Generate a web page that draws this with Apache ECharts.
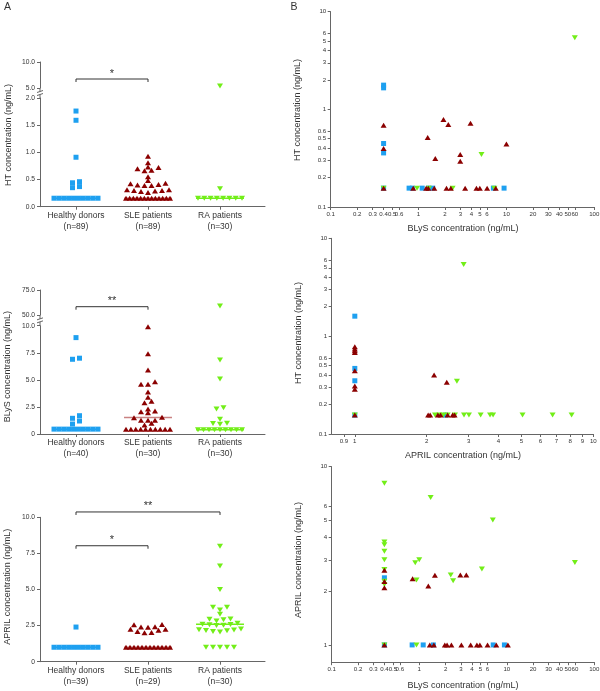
<!DOCTYPE html>
<html><head><meta charset="utf-8">
<script src="https://cdn.jsdelivr.net/npm/echarts@6/dist/echarts.min.js"></script>
<style>html,body{margin:0;padding:0;background:#fff}#c{width:600px;height:691px}</style>
</head><body><div id="c"></div><script>
// ---------- DATA ----------
const groups = ['Healthy donors', 'SLE patients', 'RA patients'];

// Panel A – HT (ng/mL), visible markers
const htHealthy = [0.156,0.156,0.156,0.156,0.156,0.156,0.156,0.156,0.156,0.156, 0.35,0.37,0.44,0.46,0.91,1.59,1.76];
const htSle = [0.156,0.156,0.156,0.156,0.156,0.156,0.156,0.156,0.156,0.156,0.156,0.156,0.156,
  0.26,0.28,0.29,0.30,0.30,0.31,0.31, 0.39,0.39,0.40,0.41,0.42,0.43,0.48, 0.55, 0.66,0.67,0.70,0.72,0.73, 0.81, 0.93];
const htRa = [0.156,0.156,0.156,0.156,0.156,0.156,0.156,0.156, 0.33, 5.4];
const htMedian = [0.156, 0.156, 0.156];
const htN = [89, 89, 30];

// Panel A – BLyS (ng/mL)
const blysHealthy = [0.45,0.45,0.45,0.45,0.45,0.45,0.45,0.45,0.45,0.45, 0.92,1.2,1.45,1.69,6.9,7.0,8.9];
const blysSle = [0.43,0.43,0.43,0.43,0.43,0.43,0.43,0.43,0.43,0.43, 0.83,0.99,1.26,1.26,1.26,1.51,1.54,
  1.97,2.06,2.12,2.31,2.89,3.02,3.39,3.88,4.59,4.59,4.83,5.9,7.41,9.9];
const blysRa = [0.4,0.4,0.4,0.4,0.4,0.4,0.4,0.4,0.4, 0.9,0.97,0.99,1.36,2.31,2.43,5.08,6.83,59];
const blysMedian = [0.45, 1.52, 0.4];
const blysN = [40, 30, 30];

// Panel A – APRIL (ng/mL)
const aprilHealthy = [1,1,1,1,1,1,1,1,1,1, 2.4];
const aprilSle = [1,1,1,1,1,1,1,1,1,1,1,1, 2.0,2.03,2.1,2.17,2.24,2.24,2.38,2.4,2.42,2.56,2.58];
const aprilRa = [1,1,1,1,1, 2.05,2.1,2.14,2.16,2.2,2.22,2.26, 2.5,2.52,2.56,2.58,2.6,2.66,
  2.82,2.9,2.94,2.96, 3.28,3.58,3.77,3.77, 5.0,6.63,8.0];
const aprilMedian = [1.0, 1.0, 2.59];
const aprilN = [39, 29, 30];

// Panel B – HT vs BLyS : [BLyS, HT]
const bHtBlysHealthy = [[0.4,1.77],[0.4,1.66],[0.4,0.447],[0.4,0.358],[0.4,0.156],[0.78,0.156],[0.85,0.156],[1.1,0.156],[1.3,0.156],[1.45,0.156],[7.1,0.156],[9.4,0.156]];
const bHtBlysSle = [[0.4,0.687],[0.4,0.397],[0.4,0.156],[1.27,0.514],[1.55,0.314],[1.92,0.785],[2.18,0.70],[3.9,0.72],[2.98,0.345],[2.98,0.294],[10.0,0.443],
  [0.87,0.156],[1.22,0.156],[1.29,0.156],[1.51,0.156],[2.08,0.156],[2.33,0.156],[3.39,0.156],[4.56,0.156],[4.98,0.156],[6.03,0.156],[7.56,0.156]];
const bHtBlysRa = [[60,5.4],[5.2,0.345],[0.4,0.156],[0.96,0.156],[1.31,0.156],[2.44,0.156],[7.3,0.156]];

// Panel B – HT vs APRIL : [APRIL, HT]
const bHtAprilHealthy = [[1,1.6],[1,0.468],[1,0.35],[1,0.156],[2.4,0.156]];
const bHtAprilSle = [[1,0.78],[1,0.74],[1,0.71],[1,0.68],[1,0.443],[1,0.309],[1,0.286],[1,0.156],[2.15,0.40],[2.43,0.337],
  [2.03,0.156],[2.07,0.156],[2.23,0.156],[2.29,0.156],[2.45,0.156],[2.57,0.156],[2.62,0.156]];
const bHtAprilRa = [[2.86,5.4],[2.68,0.347],[1,0.156],[2.17,0.156],[2.26,0.156],[2.35,0.156],[2.45,0.156],[2.63,0.156],[2.87,0.156],
  [3.01,0.156],[3.37,0.156],[3.69,0.156],[3.8,0.156],[5.05,0.156],[6.75,0.156],[8.11,0.156]];

// Panel B – APRIL vs BLyS : [BLyS, APRIL]
const bAprilBlysHealthy = [[0.4,2.38],[0.4,1],[0.83,1],[1.11,1],[1.45,1],[7.0,1],[9.4,1]];
const bAprilBlysSle = [[0.4,2.62],[0.4,2.27],[0.4,2.09],[0.4,1],[0.84,2.35],[1.27,2.14],[1.51,2.46],[2.95,2.47],[3.45,2.47],
  [1.32,1],[1.47,1],[1.96,1],[2.08,1],[2.33,1],[3.03,1],[3.87,1],[4.56,1],[4.93,1],[6.03,1],[7.59,1],[10.3,1]];
const bAprilBlysRa = [[0.4,8.08],[1.35,6.71],[6.93,5.02],[0.4,3.78],[0.4,3.65],[0.4,3.35],[0.4,3.01],[0.4,2.65],[0.4,2.28],[0.4,2.18],
  [1.0,3.01],[0.9,2.89],[0.93,2.31],[2.29,2.47],[2.44,2.29],[5.2,2.67],[60,2.9],[0.93,1],[0.4,1]];

// Tick labels
const blysTicksB = [0.1,0.2,0.3,0.4,0.5,0.6,1,2,3,4,5,6,10,20,30,40,50,60,100];
const htTicksB = [0.1,0.2,0.3,0.4,0.5,0.6,1,2,3,4,5,6,10];
const aprilTicksX = [0.9,1,2,3,4,5,6,7,8,9,10];
const aprilTicksY = [1,2,3,4,5,6,10];

// ---------- STYLE ----------
const FONT = '"Liberation Sans", Arial, Helvetica, sans-serif';
const BLUE = '#1ea0f0', RED = '#8b0000', GREEN = '#72ee18', AXIS = '#666', TXT = '#333';
const marks = [
  {symbol:'rect', size:[5,5], rotate:0, color:BLUE, median:BLUE},
  {symbol:'triangle', size:[6,5], rotate:0, color:RED, median:'#c98282'},
  {symbol:'triangle', size:[6,5], rotate:180, color:GREEN, median:GREEN}
];
const A_LEFT = 40, A_WIDTH = 225, A_XMAX = 3.125;
const PX_X = A_WIDTH / A_XMAX;
const ROW_TOL = 3.5, BASE_SP = 7, MAX_SPAN = 44, MED_HALF = 0.333;

function swarm(values, center, pxY) {
  const s = values.slice().sort((a,b)=>a-b);
  const out = [];
  let i = 0;
  while (i < s.length) {
    let j = i;
    while (j < s.length && (s[j]-s[i])*pxY < ROW_TOL) j++;
    const row = s.slice(i, j), k = row.length;
    const sp = k > 1 ? Math.min(BASE_SP, MAX_SPAN/(k-1)) : 0;
    const slots = [];
    for (let q=0;q<k;q++) slots.push((q-(k-1)/2)*sp);
    const order = slots.map((p,q)=>q).sort((a,b)=>Math.abs(slots[a])-Math.abs(slots[b]) || a-b);
    row.forEach((v, idx) => out.push([center + slots[order[idx]]/PX_X, v]));
    i = j;
  }
  return out;
}

const panelsA = [
  {values:[htHealthy,htSle,htRa], medians:htMedian, n:htN, title:'HT concentration (ng/mL)', titlePos:[8.3,135],
   lower:{top:98,height:108.7,min:0,max:2,interval:0.5,fmt:v=>v.toFixed(1)},
   upper:{top:62,height:26,min:5,max:10,interval:5,fmt:v=>v.toFixed(1)},
   brackets:[{a:0,b:1,level:6.73,upper:true,label:'*'}]},
  {values:[blysHealthy,blysSle,blysRa], medians:blysMedian, n:blysN, title:'BLyS concentration (ng/mL)', titlePos:[7.3,366.7],
   lower:{top:325.7,height:108.3,min:0,max:10,interval:2.5,fmt:v=>v===0?'0':v.toFixed(1)},
   upper:{top:290,height:25,min:50,max:75,interval:25,fmt:v=>v.toFixed(1)},
   brackets:[{a:0,b:1,level:58.3,upper:true,label:'**'}]},
  {values:[aprilHealthy,aprilSle,aprilRa], medians:aprilMedian, n:aprilN, title:'APRIL concentration (ng/mL)', titlePos:[7.7,586.7],
   lower:{top:517.3,height:144.4,min:0,max:10,interval:2.5,fmt:v=>v===0?'0':v.toFixed(1)},
   upper:null,
   brackets:[{a:0,b:2,level:10.37,label:'**'},{a:0,b:1,level:8.03,label:'*'}]}
];

const panelsB = [
  {grid:{left:330.7, top:11.7, width:263.6, height:195.3}, x:{min:0.1,max:100,ticks:blysTicksB}, y:{min:0.1,max:10,ticks:htTicksB},
   data:[bHtBlysHealthy,bHtBlysSle,bHtBlysRa], xTitle:'BLyS concentration (ng/mL)', xTitlePos:[463,229], yTitle:'HT concentration (ng/mL)', yTitlePos:[297.3,110]},
  {grid:{left:331.7, top:238.3, width:261.6, height:195.7}, x:{min:0.8,max:10,ticks:aprilTicksX}, y:{min:0.1,max:10,ticks:htTicksB},
   data:[bHtAprilHealthy,bHtAprilSle,bHtAprilRa], xTitle:'APRIL concentration (ng/mL)', xTitlePos:[463,455.3], yTitle:'HT concentration (ng/mL)', yTitlePos:[299,333]},
  {grid:{left:331.7, top:466.7, width:262.6, height:195.5}, x:{min:0.1,max:100,ticks:blysTicksB}, y:{min:0.8,max:10,ticks:aprilTicksY},
   data:[bAprilBlysHealthy,bAprilBlysSle,bAprilBlysRa], xTitle:'BLyS concentration (ng/mL)', xTitlePos:[463,686], yTitle:'APRIL concentration (ng/mL)', yTitlePos:[299,560]}
];

// ---------- BUILD ----------
const grids = [], xAxes = [], yAxes = [], series = [];
function lineStyle(){ return {color:AXIS, width:1}; }
function yAxisA(idx, c) {
  return {type:'value', gridIndex:idx, min:c.min, max:c.max, interval:c.interval,
    axisLine:{show:true, onZero:false, lineStyle:lineStyle()},
    axisTick:{show:true, length:3, inside:false, lineStyle:lineStyle()},
    axisLabel:{show:true, formatter:c.fmt, fontSize:6.7, color:TXT, fontFamily:FONT, margin:5},
    splitLine:{show:false}};
}
panelsA.forEach(p => {
  p.upperIdx = -1;
  if (p.upper) {
    p.upperIdx = grids.length;
    grids.push({left:A_LEFT, top:p.upper.top, width:A_WIDTH, height:p.upper.height, containLabel:false, outerBoundsMode:'none'});
    xAxes.push({type:'value', gridIndex:p.upperIdx, min:0, max:A_XMAX, show:false, splitLine:{show:false}});
    yAxes.push(yAxisA(p.upperIdx, p.upper));
  }
  const li = grids.length; p.lowerIdx = li;
  grids.push({left:A_LEFT, top:p.lower.top, width:A_WIDTH, height:p.lower.height, containLabel:false, outerBoundsMode:'none'});
  const centers = groups.map((g,i)=>i+0.5);
  xAxes.push({type:'value', gridIndex:li, min:0, max:A_XMAX,
    axisLine:{show:true, onZero:false, lineStyle:lineStyle()},
    axisTick:{show:true, length:3, customValues:centers, lineStyle:lineStyle()},
    axisLabel:{show:true, customValues:centers, fontSize:8.5, lineHeight:11, color:TXT, fontFamily:FONT, margin:3.5,
      formatter:v=>{const i=Math.round(v-0.5); return groups[i]+'\n(n='+p.n[i]+')';}},
    splitLine:{show:false}});
  yAxes.push(yAxisA(li, p.lower));
  const pxY = p.lower.height/(p.lower.max-p.lower.min);
  p.values.forEach((vals, gi) => {
    const c = centers[gi], m = marks[gi];
    series.push({type:'line', xAxisIndex:li, yAxisIndex:li, data:[[c-MED_HALF,p.medians[gi]],[c+MED_HALF,p.medians[gi]]],
      symbol:'none', lineStyle:{color:m.median, width:1.5}, z:1, silent:true});
    const low = vals.filter(v=>v<=p.lower.max), high = vals.filter(v=>v>p.lower.max);
    series.push({type:'scatter', xAxisIndex:li, yAxisIndex:li, data:swarm(low, c, pxY),
      symbol:m.symbol, symbolSize:m.size, symbolRotate:m.rotate, itemStyle:{color:m.color, opacity:1}, z:3, silent:true});
    if (high.length && p.upper) {
      series.push({type:'scatter', xAxisIndex:p.upperIdx, yAxisIndex:p.upperIdx, data:high.map(v=>[c,v]),
        symbol:m.symbol, symbolSize:m.size, symbolRotate:m.rotate, itemStyle:{color:m.color, opacity:1}, z:3, silent:true});
    }
  });
});

function fmtLog(v){ return String(+Math.pow(10, v).toPrecision(2)); }
function logAxis(idx, c, isX) {
  const cv = c.ticks.map(t=>Math.log10(t));
  return {type:'value', gridIndex:idx, min:Math.log10(c.min), max:Math.log10(c.max),
    axisLine:{show:true, onZero:false, lineStyle:lineStyle()},
    axisTick:{show:true, length:3, customValues:cv, lineStyle:lineStyle()},
    axisLabel:{show:true, customValues:cv, formatter:fmtLog, fontSize:6.1, color:TXT, fontFamily:FONT, margin:isX?4.5:4.5, hideOverlap:false},
    splitLine:{show:false}};
}
const drawOrder = [0, 2, 1];
panelsB.forEach(p => {
  const gi = grids.length; p.idx = gi;
  grids.push(Object.assign({containLabel:false, outerBoundsMode:'none'}, p.grid));
  xAxes.push(logAxis(gi, p.x, true));
  yAxes.push(logAxis(gi, p.y, false));
  drawOrder.forEach(k => {
    const m = marks[k];
    series.push({type:'scatter', xAxisIndex:gi, yAxisIndex:gi,
      data:p.data[k].map(d=>[Math.log10(d[0]), Math.log10(d[1])]),
      symbol:m.symbol, symbolSize:m.size, symbolRotate:m.rotate, itemStyle:{color:m.color, opacity:1}, z:3, silent:true});
  });
});

const chart = echarts.init(document.getElementById('c'), null, {renderer:'canvas', width:600, height:691});
chart.setOption({animation:false, backgroundColor:'#fff', grid:grids, xAxis:xAxes, yAxis:yAxes, series:series});

// ---------- ANNOTATIONS ----------
const g = [];
function txt(x, y, s, size, rot, weight) {
  return {type:'text', x:x, y:y, rotation:rot||0, silent:true, z:10,
    style:{text:s, fill:TXT, fontSize:size, fontFamily:FONT, fontWeight:weight||'normal',
      align:'center', verticalAlign:'middle', textAlign:'center', textVerticalAlign:'middle'}};
}
g.push(txt(7.5, 7.5, 'A', 10.5));
g.push(txt(294, 7, 'B', 10.5));
panelsA.forEach(p => {
  g.push(txt(p.titlePos[0], p.titlePos[1], p.title, 9, Math.PI/2));
  if (p.upper) {
    const yb = p.upper.top + p.upper.height, yt = p.lower.top, mid = (yb+yt)/2;
    g.push({type:'line', silent:true, shape:{x1:A_LEFT, y1:yb, x2:A_LEFT, y2:mid-1.5}, style:{stroke:AXIS, lineWidth:1}});
    g.push({type:'line', silent:true, shape:{x1:A_LEFT, y1:mid+1.5, x2:A_LEFT, y2:yt}, style:{stroke:AXIS, lineWidth:1}});
    g.push({type:'line', silent:true, shape:{x1:A_LEFT-3, y1:mid-0.5, x2:A_LEFT+3, y2:mid-2.5}, style:{stroke:AXIS, lineWidth:1}});
    g.push({type:'line', silent:true, shape:{x1:A_LEFT-3, y1:mid+2.5, x2:A_LEFT+3, y2:mid+0.5}, style:{stroke:AXIS, lineWidth:1}});
  }
  p.brackets.forEach(b => {
    const gi = b.upper ? p.upperIdx : p.lowerIdx;
    const pa = chart.convertToPixel({gridIndex:gi}, [b.a+0.5, b.level]);
    const pb = chart.convertToPixel({gridIndex:gi}, [b.b+0.5, b.level]);
    g.push({type:'polyline', silent:true, shape:{points:[[pa[0],pa[1]+3],[pa[0],pa[1]],[pb[0],pb[1]],[pb[0],pb[1]+3]]},
      style:{stroke:'#333', lineWidth:1, fill:null}});
    g.push(txt((pa[0]+pb[0])/2, pa[1]-5.5, b.label, 11));
  });
});
panelsB.forEach(p => {
  g.push(txt(p.xTitlePos[0], p.xTitlePos[1], p.xTitle, 9));
  g.push(txt(p.yTitlePos[0], p.yTitlePos[1], p.yTitle, 9, Math.PI/2));
});
chart.setOption({graphic:g});
</script></body></html>
